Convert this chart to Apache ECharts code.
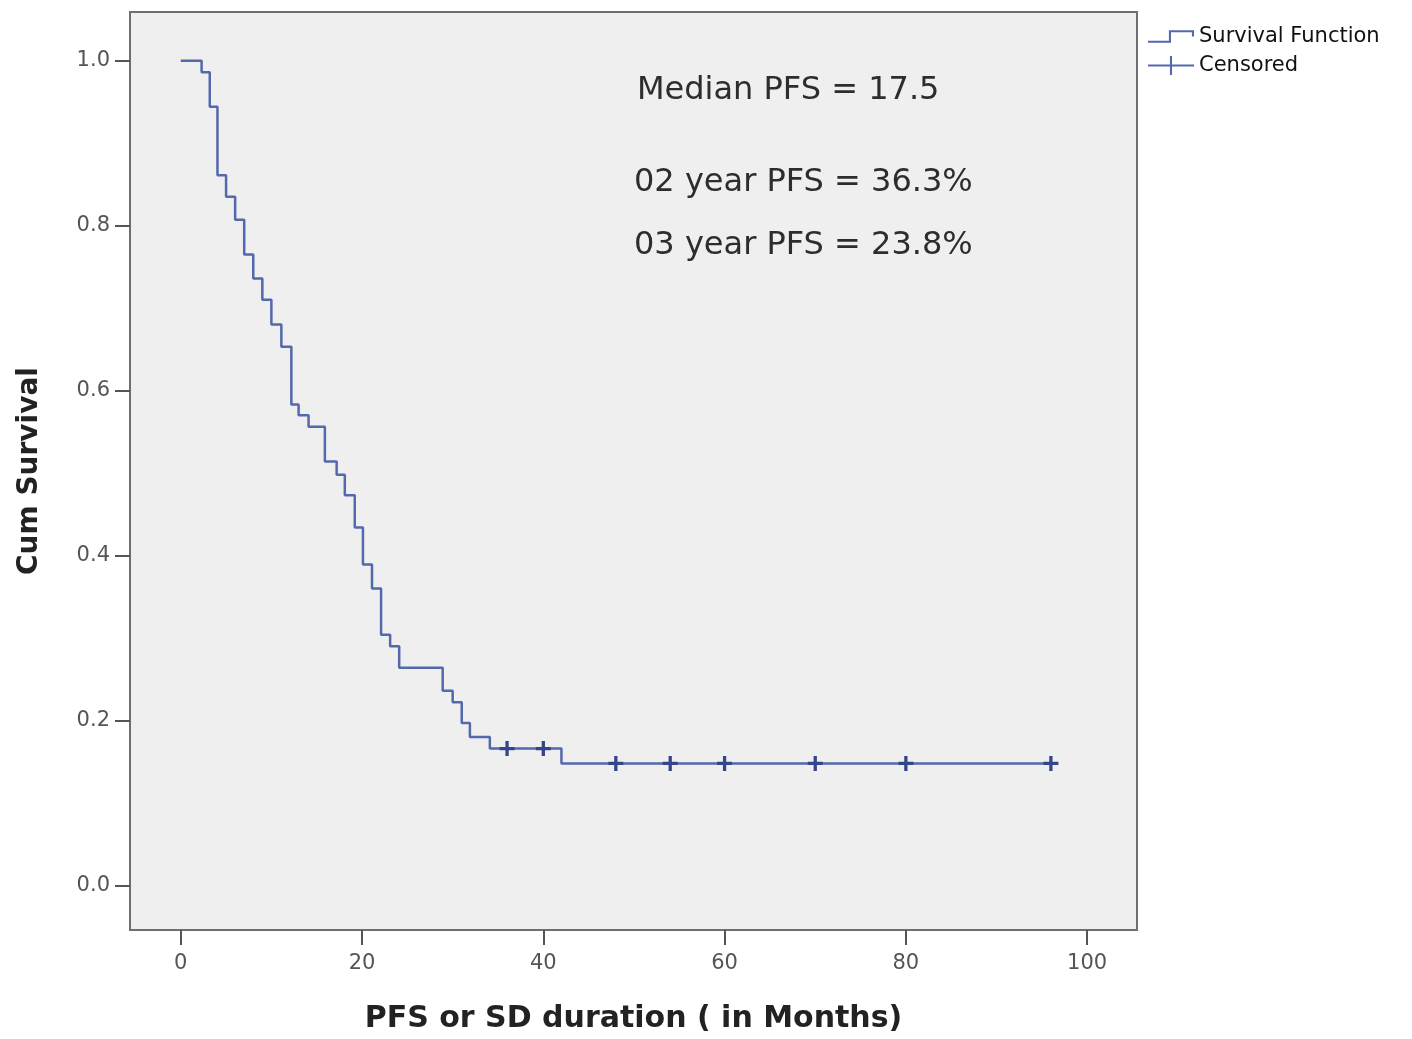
<!DOCTYPE html>
<html>
<head>
<meta charset="utf-8">
<script src="https://cdn.jsdelivr.net/npm/echarts@6/dist/echarts.min.js"></script>
<style>
  html, body { margin: 0; padding: 0; background: #ffffff; }
  #chart { width: 1412px; height: 1039px; }
</style>
</head>
<body>
<div id="chart"></div>
<script>
// Kaplan-Meier step data: time (months) at which survival drops, and survival after the drop
const times = [0, 2.3, 3.2, 4.05, 5.0, 6.0, 7.0, 8.0, 9.0, 10.0, 11.1, 12.2, 13.0, 14.1, 15.9, 17.2, 18.1, 19.2, 20.1, 21.1, 22.1, 23.1, 24.1, 28.9, 30.0, 31.0, 31.9, 34.1, 42.0];
const survival = [1.0, 0.986, 0.944, 0.861, 0.835, 0.807, 0.765, 0.736, 0.710, 0.680, 0.653, 0.583, 0.570, 0.556, 0.514, 0.498, 0.473, 0.434, 0.389, 0.360, 0.304, 0.290, 0.264, 0.236, 0.222, 0.197, 0.180, 0.166, 0.148];
// Censored observations
const censTimes = [36, 40, 48, 54, 60, 70, 80, 96];
const censSurv = [0.166, 0.166, 0.148, 0.148, 0.148, 0.148, 0.148, 0.148];
// Tick labels
const xTicks = [0, 20, 40, 60, 80, 100];
const yTicks = [0, 0.2, 0.4, 0.6, 0.8, 1.0];
// Annotation texts
const notes = ['Median PFS = 17.5', '02 year PFS = 36.3%', '03 year PFS = 23.8%'];

const stepData = times.map((t, i) => [t, survival[i]]);
const lastT = Math.max(...censTimes);
stepData.push([lastT, survival[survival.length - 1]]);
const censData = censTimes.map((t, i) => [t, censSurv[i]]);

const chart = echarts.init(document.getElementById('chart'), null, { renderer: 'canvas' });
const lineColor = '#5468ad';
const censColor = '#34468a';
const plusPath = 'path://M3.9,0 H6.1 V3.9 H10 V6.1 H6.1 V10 H3.9 V6.1 H0 V3.9 H3.9 Z';

chart.setOption({
  animation: false,
  backgroundColor: '#ffffff',
  grid: {
    left: 130, top: 12, right: 275, bottom: 106,
    show: true, backgroundColor: '#efefef', borderColor: '#6e6e6e', borderWidth: 2,
    containLabel: false
  },
  legend: {
    orient: 'vertical',
    left: 1143, top: 21,
    itemWidth: 46, itemHeight: 22, itemGap: 8,
    textStyle: { fontFamily: 'DejaVu Sans', fontSize: 21, color: '#111' },
    data: [
      { name: 'Survival Function', icon: 'path://M0,12 H20 V2 H44 V8 H42 V4 H22 V14 H0 Z', itemStyle: { color: lineColor } },
      { name: 'Censored', icon: 'path://M0,10 H21 V2 H23 V10 H44 V12 H23 V20 H21 V12 H0 Z', itemStyle: { color: lineColor } }
    ]
  },
  xAxis: {
    type: 'value', min: -5.6, max: 105.5,
    name: 'PFS or SD duration ( in Months)', nameLocation: 'middle', nameGap: 74,
    nameTextStyle: { fontFamily: 'DejaVu Sans', fontWeight: 'bold', fontSize: 30, color: '#222' },
    axisLine: { show: false, onZero: false },
    axisTick: { show: true, inside: false, length: 15, customValues: xTicks, lineStyle: { color: '#555', width: 2 } },
    axisLabel: { customValues: xTicks, margin: 23, fontFamily: 'DejaVu Sans', fontSize: 21, color: '#555' },
    splitLine: { show: false }
  },
  yAxis: {
    type: 'value', min: -0.054, max: 1.059,
    name: 'Cum Survival', nameLocation: 'middle', nameGap: 86, nameRotate: 90,
    nameTextStyle: { fontFamily: 'DejaVu Sans', fontWeight: 'bold', fontSize: 28, color: '#222' },
    axisLine: { show: false, onZero: false },
    axisTick: { show: true, inside: false, length: 15, customValues: yTicks, lineStyle: { color: '#555', width: 2 } },
    axisLabel: { customValues: yTicks, margin: 20, fontFamily: 'DejaVu Sans', fontSize: 21, color: '#555',
      formatter: v => v.toFixed(1) },
    splitLine: { show: false }
  },
  graphic: notes.map((txt, i) => ({
    type: 'text',
    left: i === 0 ? 637 : 634,
    top: [75, 167, 230][i],
    style: { text: txt, font: '32px "DejaVu Sans"', fill: '#2d2d2d' },
    silent: true
  })),
  series: [
    {
      name: 'Survival Function', type: 'line', step: 'end',
      data: stepData, showSymbol: false, symbol: 'none',
      lineStyle: { color: lineColor, width: 2.5 },
      itemStyle: { color: lineColor },
      z: 2
    },
    {
      name: 'Censored', type: 'scatter',
      data: censData, symbol: plusPath, symbolSize: 15,
      itemStyle: { color: censColor, opacity: 1 },
      z: 3
    }
  ]
});
</script>
</body>
</html>
